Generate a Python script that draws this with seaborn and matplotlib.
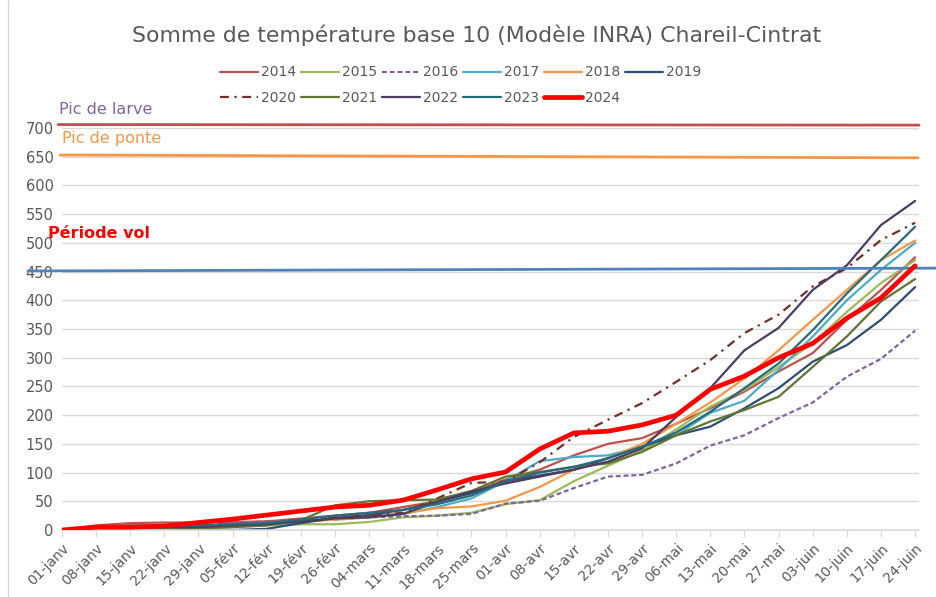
import matplotlib
matplotlib.use("Agg")
import matplotlib.pyplot as plt
import pandas as pd
import seaborn as sns
from matplotlib.lines import Line2D

# weekly tick labels (2024 calendar, one per week)
week_labels = ["01-janv", "08-janv", "15-janv", "22-janv", "29-janv", "05-févr",
               "12-févr", "19-févr", "26-févr", "04-mars", "11-mars", "18-mars",
               "25-mars", "01-avr", "08-avr", "15-avr", "22-avr", "29-avr",
               "06-mai", "13-mai", "20-mai", "27-mai", "03-juin", "10-juin",
               "17-juin", "24-juin"]

# cumulated degree-days read at each weekly tick
v2014 = [0, 8, 12, 13, 13, 14, 15, 20, 25, 30, 40, 50, 65, 88, 105, 130, 150, 160,
         185, 212, 241, 276, 308, 366, 418, 475]
v2015 = [0, 3, 3, 3, 3, 5, 8, 10, 10, 14, 22, 25, 30, 45, 52, 85, 112, 138,
         175, 215, 244, 284, 325, 380, 430, 470]
v2016 = [0, 3, 5, 5, 8, 12, 15, 15, 18, 22, 24, 25, 28, 46, 51, 73, 93, 96,
         116, 147, 165, 195, 222, 267, 298, 347]
v2017 = [0, 5, 6, 6, 7, 8, 10, 14, 20, 25, 28, 40, 55, 85, 120, 127, 130, 145,
         165, 204, 225, 279, 337, 400, 453, 500]
v2018 = [0, 3, 3, 4, 5, 8, 12, 15, 18, 22, 29, 38, 41, 51, 75, 105, 125, 150,
         185, 222, 264, 313, 366, 418, 470, 504]
v2019 = [0, 0, 0, 0, 0, 0, 2, 12, 21, 26, 35, 49, 64, 85, 95, 105, 125, 145,
         165, 180, 212, 247, 293, 322, 366, 423]
v2020 = [0, 5, 5, 6, 8, 10, 12, 18, 22, 25, 30, 55, 82, 84, 118, 162, 192, 221,
         258, 296, 343, 375, 424, 456, 505, 535]
v2021 = [0, 3, 3, 3, 3, 5, 8, 17, 43, 50, 52, 53, 68, 93, 101, 110, 116, 136,
         165, 189, 209, 232, 284, 337, 398, 437]
v2022 = [0, 5, 5, 5, 5, 8, 10, 15, 20, 22, 28, 49, 67, 81, 93, 105, 119, 142,
         197, 247, 313, 352, 418, 461, 531, 573]
v2023 = [0, 5, 8, 8, 8, 10, 12, 18, 25, 30, 35, 45, 60, 85, 100, 110, 125, 145,
         170, 206, 247, 290, 348, 412, 470, 528]
v2024 = [0, 5, 5, 7, 13, 19, 26, 33, 40, 43, 52, 70, 89, 101, 141, 169, 172, 183,
         200, 245, 268, 300, 325, 369, 404, 460]

years = ["2014", "2015", "2016", "2017", "2018", "2019",
         "2020", "2021", "2022", "2023", "2024"]
colors = ["#C0504D", "#9BBB59", "#8064A2", "#4BACC6", "#F79646", "#2C4D75",
          "#772C2A", "#5F7530", "#4D3B62", "#276A7C", "#FF0000"]

# reference levels (start, end)
larve_level = [706, 705]
ponte_level = [653, 648]
vol_level = [451, 456]

dates = pd.date_range("2024-01-01", "2024-06-24", freq="7D")
day = (dates - dates[0]).days.to_numpy()

series = [v2014, v2015, v2016, v2017, v2018, v2019,
          v2020, v2021, v2022, v2023, v2024]
df = pd.DataFrame({"jour": list(day) * len(years),
                   "somme": sum(series, []),
                   "annee": [y for y in years for _ in day]})

sns.set_style("white")
plt.rcParams["font.family"] = ["DejaVu Sans"]

fig = plt.figure(figsize=(9.37, 5.97), dpi=100)
ax = fig.add_axes([62 / 937, 1 - 530 / 597, 857 / 937, 402 / 597])

grey = "#595959"
for y in range(50, 701, 50):
    ax.axhline(y, color="#D9D9D9", lw=1, zorder=0)

handles = {}
for yr, col in zip(years, colors):
    sub = df[df["annee"] == yr]
    lw = 3.4 if yr == "2024" else 1.6
    sns.lineplot(data=sub, x="jour", y="somme", ax=ax, color=col, lw=lw,
                 zorder=3 if yr == "2024" else 2)
    line = ax.lines[-1]
    if yr == "2016":
        line.set_dashes((2.2, 1.3))
    elif yr == "2020":
        line.set_dashes((4, 2.5, 1, 2.5))
    handles[yr] = line

# reference lines
ax.plot([-0.8, 175.8], larve_level, color="#C0504D", lw=2, clip_on=False)
ax.plot([-0.4, 175.6], ponte_level, color="#F79646", lw=2, clip_on=False)
ax.plot([-7, 179.5], vol_level, color="#4F81BD", lw=2, clip_on=False)

ax.set_xlim(0, 175.8)
ax.set_ylim(0, 700)
ax.set_xticks(day)
ax.set_xticklabels(week_labels, rotation=45, ha="right", rotation_mode="anchor",
                   fontsize=10, color=grey)
ax.set_yticks(range(0, 701, 50))
ax.set_yticklabels([str(v) for v in range(0, 701, 50)], fontsize=10.5, color=grey)
ax.tick_params(axis="x", length=5, color="#D9D9D9", pad=3, direction="out",
               bottom=True)
ax.tick_params(axis="y", length=0, pad=6)
ax.set_xlabel("")
ax.set_ylabel("")
for side in ["top", "right", "left"]:
    ax.spines[side].set_visible(False)
ax.spines["bottom"].set_color("#D9D9D9")
ax.spines["bottom"].set_linewidth(1.2)

fig.text(477 / 937, 1 - 35 / 597,
         "Somme de température base 10 (Modèle INRA) Chareil-Cintrat",
         ha="center", va="center", fontsize=15.8, color=grey)

order = ["2014", "2020", "2015", "2021", "2016", "2022",
         "2017", "2023", "2018", "2024", "2019"]
fig.legend([handles[k] for k in order], order, loc="center",
           bbox_to_anchor=(461 / 937, 1 - 85 / 597), ncol=6, frameon=False,
           fontsize=10, labelcolor=grey, handlelength=2.7, handletextpad=0.25,
           columnspacing=0.35, labelspacing=0.8)

fig.text(59 / 937, 1 - 110 / 597, "Pic de larve", fontsize=11.5,
         color="#8064A2", ha="left", va="center")
fig.text(62 / 937, 1 - 139 / 597, "Pic de ponte", fontsize=11.5,
         color="#F79646", ha="left", va="center")
fig.text(48 / 937, 1 - 233 / 597, "Période vol", fontsize=11.5,
         color="#FF0000", fontweight="bold", ha="left", va="center")

fig.add_artist(Line2D([8 / 937, 8 / 937], [0, 1], color="#D9D9D9", lw=1,
                      transform=fig.transFigure))

fig.savefig("out.png", dpi=100)
